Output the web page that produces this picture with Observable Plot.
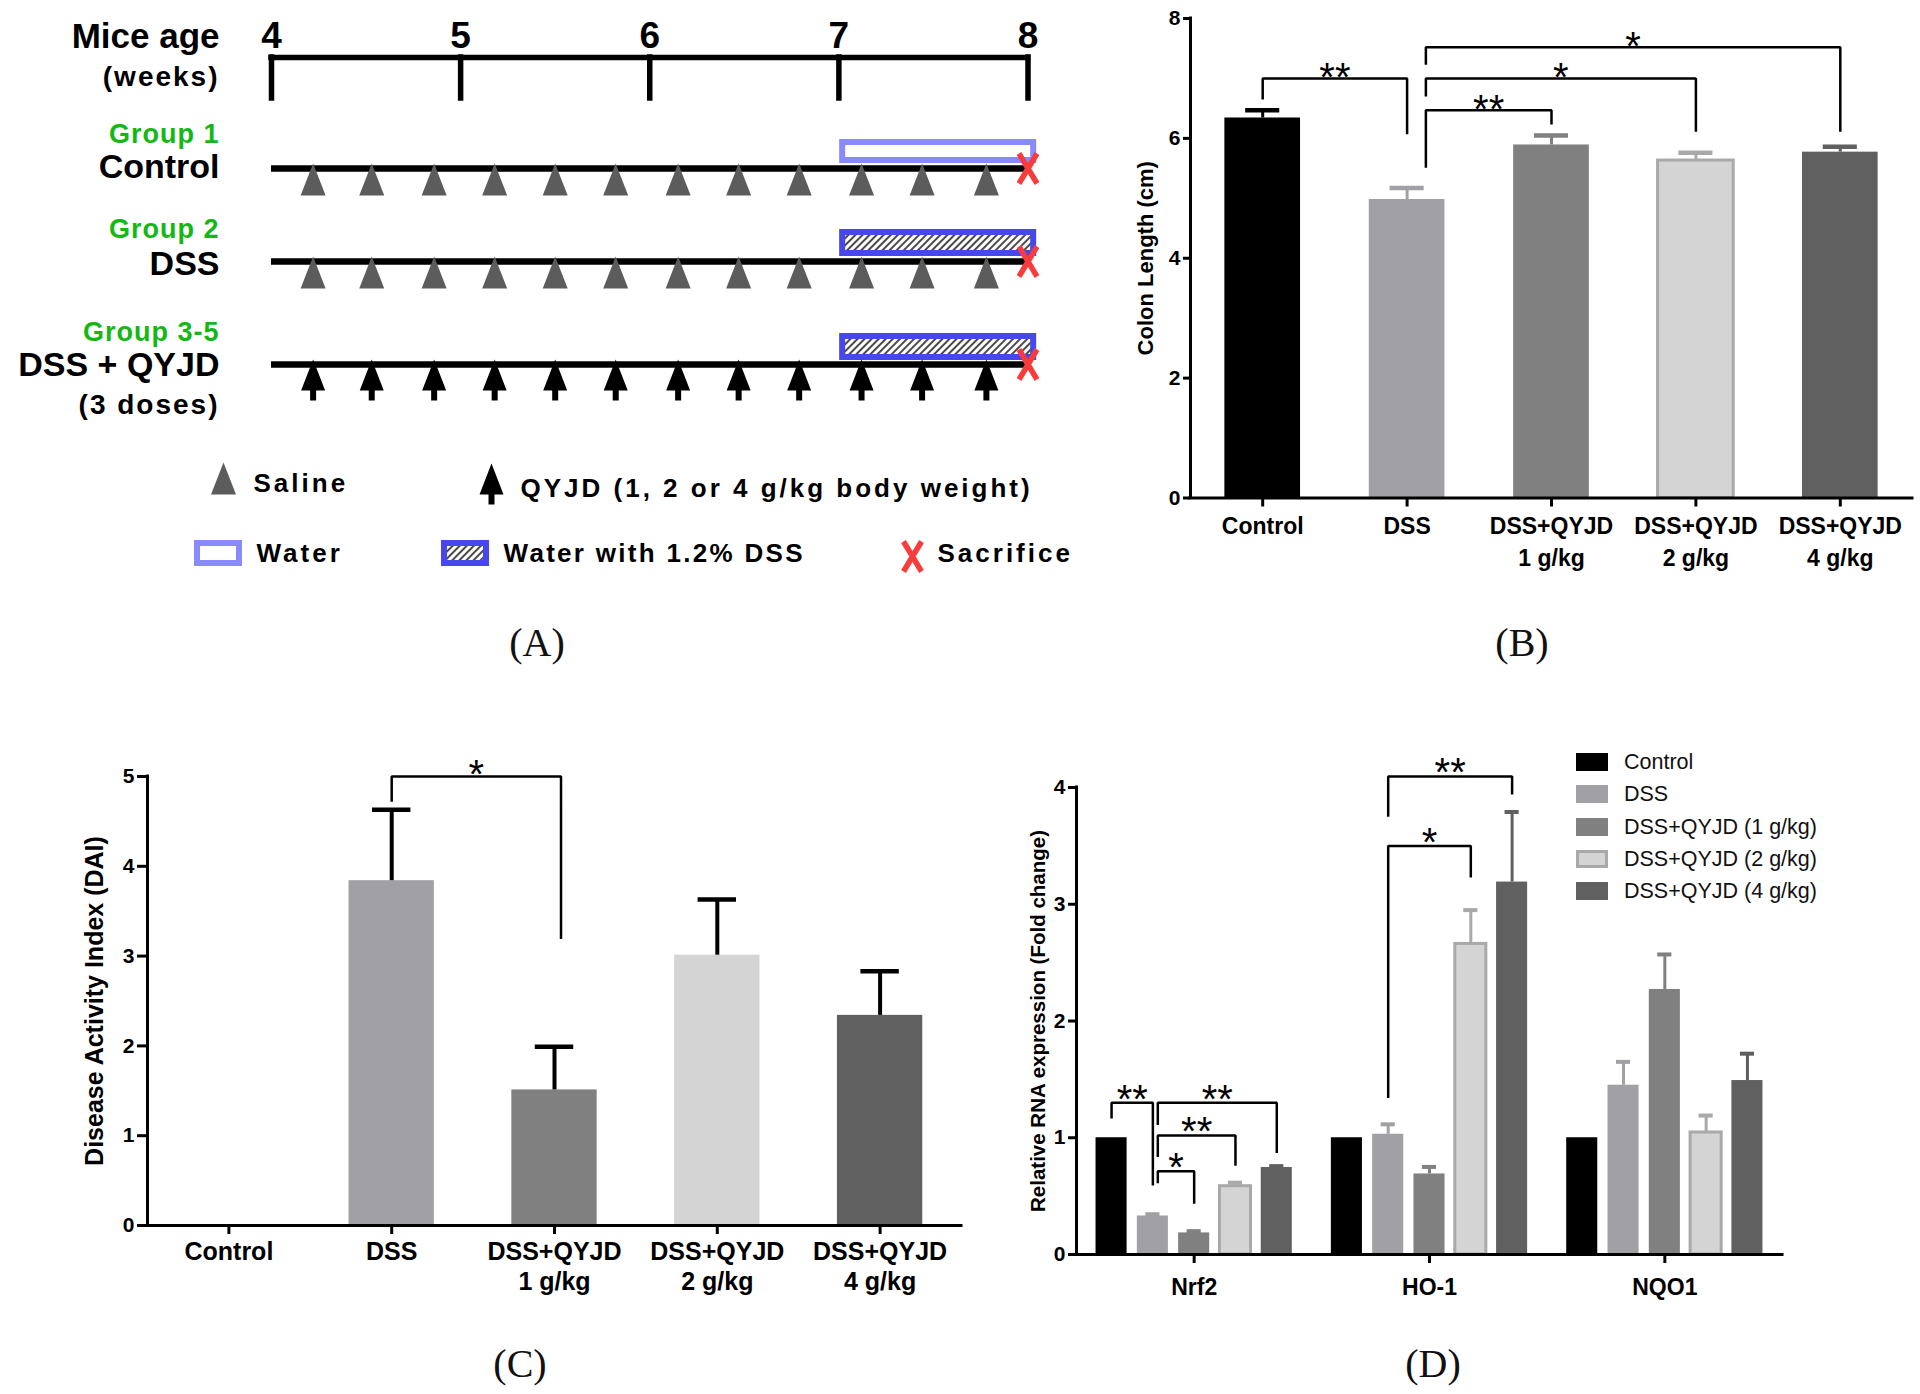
<!DOCTYPE html>
<html>
<head>
<meta charset="utf-8">
<script src="https://cdn.jsdelivr.net/npm/d3@7"></script>
<script src="https://cdn.jsdelivr.net/npm/@observablehq/plot@0.6"></script>
<style>
  html, body { margin: 0; padding: 0; background: #fff; }
  #page { position: relative; width: 1920px; height: 1394px; background: #fff; overflow: hidden;
          font-family: "Liberation Sans", Arial, sans-serif; color: #000; }
  .panel { position: absolute; }
  .plabel { position: absolute; font-family: "Liberation Serif", "Times New Roman", serif; font-size: 40px;
            transform: translate(-50%, -50%); color: #111; white-space: nowrap; }
  .legrow { position: absolute; left: 1576px; height: 0; white-space: nowrap; }
  .legrow .sw { position: absolute; left: 0; top: -9px; width: 32px; height: 18px; box-sizing: border-box; }
  .legrow .tx { position: absolute; left: 48px; top: -13px; font-size: 21.5px; line-height: 26px; color: #111; }
</style>
</head>
<body>
<div id="page">
  <svg width="0" height="0" style="position:absolute">
    <defs>
      <pattern id="hatch" patternUnits="userSpaceOnUse" width="5" height="5" patternTransform="rotate(45)">
        <rect width="5" height="5" fill="#ffffff"></rect>
        <line x1="1" y1="0" x2="1" y2="5" stroke="#2a2a2a" stroke-width="1.7"></line>
      </pattern>
    </defs>
  </svg>
  <div id="A" class="panel" style="left:0;top:0;width:1100px;height:700px"></div>
  <div id="B" class="panel" style="left:1100px;top:0;width:820px;height:600px"></div>
  <div id="C" class="panel" style="left:0;top:740px;width:980px;height:600px"></div>
  <div id="D" class="panel" style="left:980px;top:740px;width:940px;height:600px"></div>
  <div id="legD"></div>
  <div class="plabel" style="left:537px;top:642px">(A)</div>
  <div class="plabel" style="left:1522px;top:642px">(B)</div>
  <div class="plabel" style="left:520px;top:1363px">(C)</div>
  <div class="plabel" style="left:1433px;top:1363px">(D)</div>
</div>
<script>
// ================= DATA =================
// Panel A: experimental timeline
const weeks = [4, 5, 6, 7, 8];
const doseWeeks = [4.22, 4.53, 4.86, 5.18, 5.5, 5.82, 6.15, 6.47, 6.79, 7.12, 7.44, 7.78];
const waterPeriod = [7, 8];
const sacrificeWeek = 8;
const groupTitles = ["Group 1", "Group 2", "Group 3-5"];
const groupNames = ["Control", "DSS", "DSS + QYJD"];
const groupNotes = ["", "", "(3 doses)"];
const groupDose = ["Saline", "Saline", "QYJD"];
const groupWater = ["Water", "Water with 1.2% DSS", "Water with 1.2% DSS"];
const legendLabelsA = ["Saline", "QYJD (1, 2 or 4 g/kg body weight)", "Water", "Water with 1.2% DSS", "Sacrifice"];

// Panels B and C
const groupsBC = ["Control", "DSS", "DSS+QYJD 1 g/kg", "DSS+QYJD 2 g/kg", "DSS+QYJD 4 g/kg"];
const tickLabelsBC = ["Control", "DSS", "DSS+QYJD\n1 g/kg", "DSS+QYJD\n2 g/kg", "DSS+QYJD\n4 g/kg"];
const colonLength = [6.34, 4.98, 5.89, 5.63, 5.77];
const colonLengthSEM = [0.13, 0.19, 0.16, 0.13, 0.09];
const daiMean = [0, 3.84, 1.51, 3.01, 2.34];
const daiSEM = [0, 0.79, 0.48, 0.62, 0.49];

// Panel D
const genes = ["Nrf2", "HO-1", "NQO1"];
const seriesD = ["Control", "DSS", "DSS+QYJD (1 g/kg)", "DSS+QYJD (2 g/kg)", "DSS+QYJD (4 g/kg)"];
const nrf2 = [1.0, 0.33, 0.185, 0.585, 0.745];
const nrf2SEM = [0, 0.015, 0.015, 0.03, 0.012];
const ho1 = [1.0, 1.03, 0.69, 2.66, 3.19];
const ho1SEM = [0, 0.085, 0.06, 0.29, 0.6];
const nqo1 = [1.0, 1.45, 2.27, 1.045, 1.49];
const nqo1SEM = [0, 0.2, 0.3, 0.145, 0.23];

// significance brackets (values in data units)
const sigB = [
  {from: "Control", to: "DSS", top: 7.0, fromEnd: 6.65, toEnd: 6.07, label: "**"},
  {from: "DSS", to: "DSS+QYJD 1 g/kg", top: 6.47, fromEnd: 5.51, toEnd: 6.23, label: "**"},
  {from: "DSS", to: "DSS+QYJD 2 g/kg", top: 7.0, fromEnd: 6.7, toEnd: 6.11, label: "*"},
  {from: "DSS", to: "DSS+QYJD 4 g/kg", top: 7.52, fromEnd: 7.23, toEnd: 6.11, label: "*"}
];
const sigC = [
  {from: "DSS", to: "DSS+QYJD 1 g/kg", top: 5.0, fromEnd: 4.72, toEnd: 3.19, label: "*"}
];
const sigD = [
  {gene: "Nrf2", from: "Control", to: "DSS", top: 1.30, fromEnd: 1.165, toEnd: 0.59, label: "**"},
  {gene: "Nrf2", from: "DSS", to: "DSS+QYJD (4 g/kg)", top: 1.30, fromEnd: 1.11, toEnd: 0.87, label: "**"},
  {gene: "Nrf2", from: "DSS", to: "DSS+QYJD (2 g/kg)", top: 1.02, fromEnd: 0.835, toEnd: 0.76, label: "**"},
  {gene: "Nrf2", from: "DSS", to: "DSS+QYJD (1 g/kg)", top: 0.714, fromEnd: 0.61, toEnd: 0.435, label: "*"},
  {gene: "HO-1", from: "DSS", to: "DSS+QYJD (4 g/kg)", top: 4.095, fromEnd: 3.75, toEnd: 3.94, label: "**"},
  {gene: "HO-1", from: "DSS", to: "DSS+QYJD (2 g/kg)", top: 3.5, fromEnd: 1.34, toEnd: 3.23, label: "*"}
];

// ================= STYLES =================
const FONT = '"Liberation Sans", Arial, Helvetica, sans-serif';
const fills = ["#000000", "#a1a1a5", "#808080", "#d4d4d4", "#606060"];
const edges = ["none", "none", "none", "#a9a9a9", "none"];
const errColors = ["#000000", "#a1a1a5", "#808080", "#a9a9a9", "#606060"];
const GREEN = "#14b814", RED = "#f83c3c", WATER_EDGE = "#8a8aff", DSS_EDGE = "#4747ec", TRI = "#5c5c5c";
const baseStyle = {fontFamily: FONT, fontSize: "21px", fontWeight: "bold", color: "#000", background: "transparent", overflow: "visible"};
const intFmt = d => String(d);

// ================= PANEL A =================
const triSym = {draw(c) { c.moveTo(0, -16); c.lineTo(12.5, 16); c.lineTo(-12.5, 16); c.closePath(); }};
const arrowSym = {draw(c) { c.moveTo(0, -5); c.lineTo(12, 26); c.lineTo(3, 26); c.lineTo(3, 36); c.lineTo(-3, 36); c.lineTo(-3, 26); c.lineTo(-12, 26); c.closePath(); }};
const xSym = {draw(c) { c.moveTo(-9, -15); c.lineTo(9, 15); c.moveTo(9, -15); c.lineTo(-9, 15); }};

// layout of the schematic (pixels within panel A)
const LA = {
  left: 271, right: 1027.5, width: 1100, height: 700,
  numY: 36, axisY: 57, axisTickBottom: 98,
  rowLine: [168, 261, 364], titleY: [134, 229, 332], nameY: [167, 264, 365], noteY: 405,
  boxY: [[142, 160], [232, 253], [336, 357]],
  labelRight: 219,
  leg1: {triX: 223, triY: 478, salineX: 253, salineY: 483, arrowX: 491, arrowY: 468, qyjdX: 520, qyjdY: 488},
  leg2: {y: 553, boxY: [543, 563], waterBox: [197, 239], waterX: 256, dssBox: [444, 486], dssX: 503, xX: 912, xY: 556, sacX: 937}
};
const wk = px => weeks[0] + (px - LA.left) / ((LA.right - LA.left) / (weeks[weeks.length - 1] - weeks[0]));

const rowsA = groupNames.map((name, i) => ({i, name, title: groupTitles[i], note: groupNotes[i], dose: groupDose[i], water: groupWater[i]}));
const salineDots = rowsA.filter(r => r.dose === "Saline").flatMap(r => doseWeeks.map(w => ({w, i: r.i})));
const qyjdDots = rowsA.filter(r => r.dose === "QYJD").flatMap(r => doseWeeks.map(w => ({w, i: r.i})));

const plotA = Plot.plot({
  width: LA.width, height: LA.height,
  marginLeft: LA.left, marginRight: LA.width - LA.right, marginTop: 0, marginBottom: 0,
  x: {domain: [weeks[0], weeks[weeks.length - 1]], axis: null},
  y: {domain: [0, LA.height], range: [0, LA.height], axis: null},
  style: baseStyle,
  marks: [
    // timeline axis
    Plot.ruleY([LA.axisY], {x1: weeks[0], x2: weeks[weeks.length - 1], strokeWidth: 5.5, strokeLinecap: "square"}),
    Plot.ruleX(weeks, {x: d => d, y1: LA.axisY, y2: LA.axisTickBottom, strokeWidth: 5.5, strokeLinecap: "square"}),
    Plot.text(weeks, {x: d => d, y: LA.numY, text: d => String(d), fontSize: 37, fontWeight: "bold"}),
    Plot.text(["Mice age"], {x: wk(LA.labelRight), y: LA.numY, text: d => d, textAnchor: "end", fontSize: 35, fontWeight: "bold"}),
    Plot.text(["(weeks)"], {x: wk(LA.labelRight), y: 77, text: d => d, textAnchor: "end", fontSize: 28, fontWeight: "bold"}),
    // group rows
    Plot.rect(rowsA.filter(r => r.water === "Water"), {x1: waterPeriod[0] + 0.02, x2: waterPeriod[1] + 0.03, y1: r => LA.boxY[r.i][0], y2: r => LA.boxY[r.i][1], fill: "white", stroke: WATER_EDGE, strokeWidth: 6}),
    Plot.rect(rowsA.filter(r => r.water !== "Water"), {x1: waterPeriod[0] + 0.02, x2: waterPeriod[1] + 0.03, y1: r => LA.boxY[r.i][0], y2: r => LA.boxY[r.i][1], fill: "url(#hatch)", stroke: DSS_EDGE, strokeWidth: 6}),
    Plot.ruleY(rowsA, {y: r => LA.rowLine[r.i], x1: weeks[0], x2: sacrificeWeek, strokeWidth: 6.5}),
    Plot.dot(salineDots, {x: "w", y: d => LA.rowLine[d.i] + 11, symbol: triSym, fill: TRI, stroke: "none"}),
    Plot.dot(qyjdDots, {x: "w", y: d => LA.rowLine[d.i], symbol: arrowSym, fill: "#000", stroke: "none"}),
    Plot.dot(rowsA, {x: sacrificeWeek, y: r => LA.rowLine[r.i], symbol: xSym, fill: "none", stroke: RED, strokeWidth: 5.5}),
    Plot.text(rowsA, {x: wk(LA.labelRight), y: r => LA.titleY[r.i], text: "title", textAnchor: "end", fill: GREEN, fontSize: 27, fontWeight: "bold"}),
    Plot.text(rowsA, {x: wk(LA.labelRight), y: r => LA.nameY[r.i], text: "name", textAnchor: "end", fontSize: 34, fontWeight: "bold"}),
    Plot.text(rowsA.filter(r => r.note), {x: wk(LA.labelRight), y: LA.noteY, text: "note", textAnchor: "end", fontSize: 28, fontWeight: "bold"}),
    // legend
    Plot.dot([legendLabelsA[0]], {x: wk(LA.leg1.triX), y: LA.leg1.triY, symbol: triSym, fill: TRI, stroke: "none"}),
    Plot.text([legendLabelsA[0]], {x: wk(LA.leg1.salineX), y: LA.leg1.salineY, text: d => d, textAnchor: "start", fontSize: 26, fontWeight: "bold"}),
    Plot.dot([legendLabelsA[1]], {x: wk(LA.leg1.arrowX), y: LA.leg1.arrowY, symbol: arrowSym, fill: "#000", stroke: "none"}),
    Plot.text([legendLabelsA[1]], {x: wk(LA.leg1.qyjdX), y: LA.leg1.qyjdY, text: d => d, textAnchor: "start", fontSize: 26, fontWeight: "bold"}),
    Plot.rect([legendLabelsA[2]], {x1: wk(LA.leg2.waterBox[0]), x2: wk(LA.leg2.waterBox[1]), y1: LA.leg2.boxY[0], y2: LA.leg2.boxY[1], fill: "white", stroke: WATER_EDGE, strokeWidth: 6}),
    Plot.text([legendLabelsA[2]], {x: wk(LA.leg2.waterX), y: LA.leg2.y, text: d => d, textAnchor: "start", fontSize: 26, fontWeight: "bold"}),
    Plot.rect([legendLabelsA[3]], {x1: wk(LA.leg2.dssBox[0]), x2: wk(LA.leg2.dssBox[1]), y1: LA.leg2.boxY[0], y2: LA.leg2.boxY[1], fill: "url(#hatch)", stroke: DSS_EDGE, strokeWidth: 6}),
    Plot.text([legendLabelsA[3]], {x: wk(LA.leg2.dssX), y: LA.leg2.y, text: d => d, textAnchor: "start", fontSize: 26, fontWeight: "bold"}),
    Plot.dot([legendLabelsA[4]], {x: wk(LA.leg2.xX), y: LA.leg2.xY, symbol: xSym, fill: "none", stroke: RED, strokeWidth: 5.5}),
    Plot.text([legendLabelsA[4]], {x: wk(LA.leg2.sacX), y: LA.leg2.y, text: d => d, textAnchor: "start", fontSize: 26, fontWeight: "bold"})
  ]
});
const spacing = new Map([["(weeks)", 2], ["(3 doses)", 2], ["Saline", 3], [legendLabelsA[1], 3], ["Water", 3], ["Water with 1.2% DSS", 2.3], ["Sacrifice", 3], ["Group 1", 1], ["Group 2", 1], ["Group 3-5", 1]]);
plotA.querySelectorAll("text").forEach(t => { if (spacing.has(t.textContent)) t.setAttribute("letter-spacing", spacing.get(t.textContent)); });
document.getElementById("A").append(plotA);

// ================= helpers =================
function bracketLines(list, xOf) {
  return list.flatMap((b, k) => {
    const x1 = xOf(b, "from"), x2 = xOf(b, "to");
    return [{k, x: x1, y: b.fromEnd}, {k, x: x1, y: b.top}, {k, x: x2, y: b.top}, {k, x: x2, y: b.toEnd}];
  });
}

// ================= PANEL B / C =================
function barPanel({values, sems, yMax, yTicks, yLabel, sig, fromShift, toShift, L, edgesOn, errBlack, starSize, starDy, tickFont, lineHeight, tickPadding, yTickSize, labelDx, labelSize, stemW}) {
  const rows = groupsBC.map((g, i) => ({g, i, v: values[i], e: sems[i]}));
  const HALF = 0.262, CAP = 0.118;
  const xOf = (b, end) => groupsBC.indexOf(b[end]) + (end === "from" ? (b.from === "DSS" ? fromShift : 0) : toShift);
  const withErr = rows.filter(d => d.e > 0);
  const ec = d => errBlack ? "#000" : errColors[d.i];
  return Plot.plot({
    width: L.width, height: L.height,
    marginLeft: L.ml, marginRight: L.mr, marginTop: L.mt, marginBottom: L.mb,
    x: {domain: [-0.5, groupsBC.length - 0.5]},
    y: {domain: [0, yMax]},
    color: {type: "identity"},
    style: baseStyle,
    marks: [
      Plot.rect(rows, {x1: d => d.i - HALF, x2: d => d.i + HALF, y1: 0, y2: "v", fill: d => fills[d.i], stroke: d => edgesOn ? edges[d.i] : "none", strokeWidth: 3}),
      Plot.ruleX(withErr, {x: "i", y1: "v", y2: d => d.v + d.e, stroke: ec, strokeWidth: stemW}),
      Plot.ruleY(withErr, {y: d => d.v + d.e, x1: d => d.i - CAP, x2: d => d.i + CAP, stroke: ec, strokeWidth: 4.5}),
      Plot.ruleY([0], {x1: -0.5, x2: groupsBC.length - 0.5, strokeWidth: 3, strokeLinecap: "square"}),
      Plot.ruleX([-0.5], {y1: 0, y2: yMax, strokeWidth: 3, strokeLinecap: "square"}),
      Plot.axisY({ticks: yTicks, tickFormat: intFmt, tickSize: yTickSize, tickPadding: 3, strokeWidth: 3, fontSize: 21, fontWeight: "bold", label: null}),
      Plot.axisX({ticks: groupsBC.map((g, i) => i), tickFormat: i => tickLabelsBC[i], tickSize: 9, tickPadding, strokeWidth: 3, fontSize: tickFont, fontWeight: "bold", lineHeight, label: null}),
      Plot.text([yLabel], {text: d => d, frameAnchor: "left", textAnchor: "middle", rotate: -90, dx: labelDx, fontSize: labelSize, fontWeight: "bold"}),
      Plot.line(bracketLines(sig, xOf), {x: "x", y: "y", z: "k", stroke: "#000", strokeWidth: 2.5, strokeLinejoin: "miter", strokeLinecap: "butt"}),
      Plot.text(sig, {x: b => (xOf(b, "from") + xOf(b, "to")) / 2, y: "top", text: "label", fontSize: starSize, fontWeight: "normal", dy: starDy})
    ]
  });
}

document.getElementById("B").append(barPanel({
  values: colonLength, sems: colonLengthSEM, yMax: 8, yTicks: [0, 2, 4, 6, 8], yLabel: "Colon Length (cm)",
  sig: sigB, fromShift: 0.13, toShift: 0,
  L: {width: 820, height: 600, ml: 90, mr: 8, mt: 18, mb: 102.5},
  edgesOn: true, errBlack: false, starSize: 40, starDy: 0, tickFont: 23, lineHeight: 1.4, tickPadding: 4,
  yTickSize: 7, labelDx: -45, labelSize: 22, stemW: 3
}));

document.getElementById("C").append(barPanel({
  values: daiMean, sems: daiSEM, yMax: 5, yTicks: [0, 1, 2, 3, 4, 5], yLabel: "Disease Activity Index (DAI)",
  sig: sigC, fromShift: 0, toShift: 0.04,
  L: {width: 980, height: 600, ml: 147, mr: 19, mt: 36, mb: 115},
  edgesOn: false, errBlack: true, starSize: 40, starDy: -1, tickFont: 25, lineHeight: 1.2, tickPadding: 4,
  yTickSize: 10, labelDx: -53, labelSize: 25, stemW: 4
}));

// ================= PANEL D =================
const STEP_D = 0.1755, HALF_D = 0.066, CAP_D = 0.03;
const valuesD = [nrf2, ho1, nqo1], semsD = [nrf2SEM, ho1SEM, nqo1SEM];
const rowsD = genes.flatMap((gene, g) => seriesD.map((s, i) => ({gene, g, s, i, v: valuesD[g][i], e: semsD[g][i], x: g + (i - 2) * STEP_D})));
const shiftD = {"Nrf2": 0.021, "HO-1": 0, "NQO1": 0};
const xOfD = (b, end) => genes.indexOf(b.gene) + (seriesD.indexOf(b[end]) - 2) * STEP_D + (end === "from" && b.from === "DSS" ? shiftD[b.gene] : 0);
const withErrD = rowsD.filter(d => d.e > 0);

const plotD = Plot.plot({
  width: 940, height: 600,
  marginLeft: 96, marginRight: 138, marginTop: 47, marginBottom: 86,
  x: {domain: [-0.5, genes.length - 0.5]},
  y: {domain: [0, 4]},
  color: {type: "identity"},
  style: baseStyle,
  marks: [
    Plot.rect(rowsD, {x1: d => d.x - HALF_D, x2: d => d.x + HALF_D, y1: 0, y2: "v", fill: d => fills[d.i], stroke: d => edges[d.i], strokeWidth: 3}),
    Plot.ruleX(withErrD, {x: "x", y1: "v", y2: d => d.v + d.e, stroke: d => errColors[d.i], strokeWidth: 3}),
    Plot.ruleY(withErrD, {y: d => d.v + d.e, x1: d => d.x - CAP_D, x2: d => d.x + CAP_D, stroke: d => errColors[d.i], strokeWidth: 4}),
    Plot.ruleY([0], {x1: -0.5, x2: genes.length - 0.5, strokeWidth: 3, strokeLinecap: "square"}),
    Plot.ruleX([-0.5], {y1: 0, y2: 4, strokeWidth: 3, strokeLinecap: "square"}),
    Plot.axisY({ticks: [0, 1, 2, 3, 4], tickFormat: intFmt, tickSize: 8, tickPadding: 3, strokeWidth: 3, fontSize: 21, fontWeight: "bold", label: null}),
    Plot.axisX({ticks: [0, 1, 2], tickFormat: i => genes[i], tickSize: 9, tickPadding: 15, strokeWidth: 3, fontSize: 23, fontWeight: "bold", label: null}),
    Plot.text(["Relative RNA expression (Fold change)"], {text: d => d, frameAnchor: "left", textAnchor: "middle", rotate: -90, dx: -38, fontSize: 20.5, fontWeight: "bold"}),
    Plot.line(bracketLines(sigD, xOfD), {x: "x", y: "y", z: "k", stroke: "#000", strokeWidth: 2.5, strokeLinejoin: "miter", strokeLinecap: "butt"}),
    Plot.text(sigD, {x: b => (xOfD(b, "from") + xOfD(b, "to")) / 2, y: "top", text: "label", fontSize: 40, fontWeight: "normal", dy: -3})
  ]
});
document.getElementById("D").append(plotD);

// legend for D (HTML)
const legD = document.getElementById("legD");
seriesD.forEach((s, i) => {
  const row = document.createElement("div");
  row.className = "legrow";
  row.style.top = (762 + i * 32.3) + "px";
  const sw = document.createElement("div");
  sw.className = "sw";
  sw.style.background = fills[i];
  if (edges[i] !== "none") sw.style.border = "3px solid " + edges[i];
  const tx = document.createElement("div");
  tx.className = "tx";
  tx.textContent = s;
  row.append(sw, tx);
  legD.append(row);
});
</script>
</body>
</html>
